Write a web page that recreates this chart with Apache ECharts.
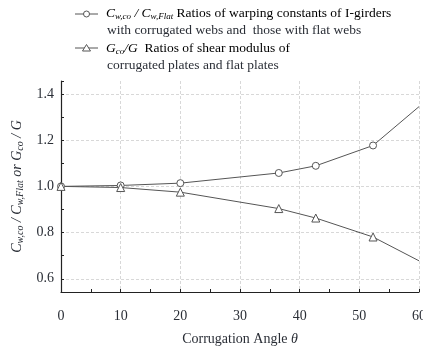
<!DOCTYPE html>
<html>
<head>
<meta charset="utf-8">
<script src="https://cdn.jsdelivr.net/npm/echarts@6/dist/echarts.min.js"></script>
<style>
  html, body { margin: 0; padding: 0; background: #fff; }
  #main { width: 423px; height: 347px; }
</style>
</head>
<body>
<div id="main"></div>
<script>
// corrugation angle (deg)
var angles = [0, 10, 20, 36.5, 42.7, 52.3, 60];
// Cw,co / Cw,Flat
var warpRatio = [1.0, 1.004, 1.014, 1.058, 1.089, 1.177, 1.345];
// Gco / G
var shearRatio = [1.0, 0.995, 0.975, 0.904, 0.863, 0.781, 0.678];

var serif = 'Liberation Serif';
var txt = '#2a2e36';
var lineCol = '#555';

function pairs(ys) {
  var out = [];
  for (var i = 0; i < angles.length; i++) {
    var p = { value: [angles[i], ys[i]] };
    if (i === angles.length - 1) p.symbol = 'none';   // last point is just where the line runs off
    out.push(p);
  }
  return out;
}

function rich(fs) {
  return {
    i: { fontFamily: serif, fontStyle: 'italic', fontSize: fs, color: txt },
    s: { fontFamily: serif, fontStyle: 'italic', fontSize: Math.round(fs * 0.68), color: txt, padding: [7, 0, 0, 0] },
    n: { fontFamily: serif, fontSize: fs, color: txt }
  };
}

var myChart = echarts.init(document.getElementById('main'));

var option = {
  animation: false,
  grid: { left: 61, right: 4, top: 81, bottom: 55, outerBoundsMode: 'none', containLabel: false },
  xAxis: {
    type: 'value',
    min: 0, max: 60, interval: 10,
    name: '{n|Corrugation Angle }{i|θ}',
    nameLocation: 'middle',
    nameGap: 40,
    nameTextStyle: { rich: rich(14) },
    axisLine: { lineStyle: { color: '#222', width: 1.2 } },
    axisTick: { show: true, inside: true, length: 3, lineStyle: { color: '#222' } },
    minorTick: { show: true, splitNumber: 2, length: 3, lineStyle: { color: '#222' } },
    axisLabel: { fontFamily: serif, fontSize: 14, color: txt, margin: 17 },
    splitLine: { show: true, lineStyle: { color: '#d8d8d8', type: [3, 2], width: 1 } }
  },
  yAxis: {
    type: 'value',
    min: 0.543, max: 1.456,
    splitNumber: 5,
    name: '{i|C}{s|w,co}{i| / C}{s|w,Flat}{i| or G}{s|co}{i| / G}',
    nameLocation: 'middle',
    nameRotate: 90,
    nameGap: 33,
    nameTextStyle: { rich: rich(14) },
    axisLine: { show: true, lineStyle: { color: '#222', width: 1.2 } },
    axisTick: { show: true, inside: true, length: 3, lineStyle: { color: '#222' } },
    minorTick: { show: true, splitNumber: 2, length: 3, lineStyle: { color: '#222' } },
    axisLabel: {
      fontFamily: serif, fontSize: 14, color: txt, margin: 7,
      showMinLabel: false, showMaxLabel: false,
      formatter: function (v) { return v.toFixed(1); }
    },
    splitLine: { show: true, showMinLine: false, showMaxLine: false, lineStyle: { color: '#d8d8d8', type: [3, 2], width: 1 } }
  },
  series: [
    {
      name: 'warp',
      type: 'line',
      data: pairs(warpRatio),
      symbol: 'circle',
      symbolSize: 7,
      lineStyle: { color: lineCol, width: 1 },
      itemStyle: { color: '#fff', borderColor: lineCol, borderWidth: 1 }
    },
    {
      name: 'shear',
      type: 'line',
      data: pairs(shearRatio),
      symbol: 'triangle',
      symbolSize: 8,
      lineStyle: { color: lineCol, width: 1 },
      itemStyle: { color: '#fff', borderColor: lineCol, borderWidth: 1 }
    }
  ],
  graphic: [
    // legend item 1
    { type: 'line', shape: { x1: 75, y1: 14, x2: 98, y2: 14 }, style: { stroke: lineCol, lineWidth: 1 } },
    { type: 'circle', shape: { cx: 86.5, cy: 14, r: 3 }, style: { fill: '#fff', stroke: lineCol, lineWidth: 1 } },
    {
      type: 'text', left: 106, top: 6,
      style: {
        text: '{i|C}{s|w,co}{i| / C}{s|w,Flat}{n| Ratios of warping constants of I-girders}',
        rich: rich(13.5)
      }
    },
    {
      type: 'text', left: 107, top: 23,
      style: { text: 'with corrugated webs and  those with flat webs', fontFamily: serif, fontSize: 13.5, fill: txt }
    },
    // legend item 2
    { type: 'line', shape: { x1: 75, y1: 48, x2: 98, y2: 48 }, style: { stroke: lineCol, lineWidth: 1 } },
    { type: 'polygon', shape: { points: [[86.5, 44.5], [82.5, 51], [90.5, 51]] }, style: { fill: '#fff', stroke: lineCol, lineWidth: 1 } },
    {
      type: 'text', left: 106, top: 41,
      style: {
        text: '{i|G}{s|co}{i|/G}{n|  Ratios of shear modulus of}',
        rich: rich(13.5)
      }
    },
    {
      type: 'text', left: 107, top: 58,
      style: { text: 'corrugated plates and flat plates', fontFamily: serif, fontSize: 13.5, fill: txt }
    }
  ]
};

myChart.setOption(option);
</script>
</body>
</html>
